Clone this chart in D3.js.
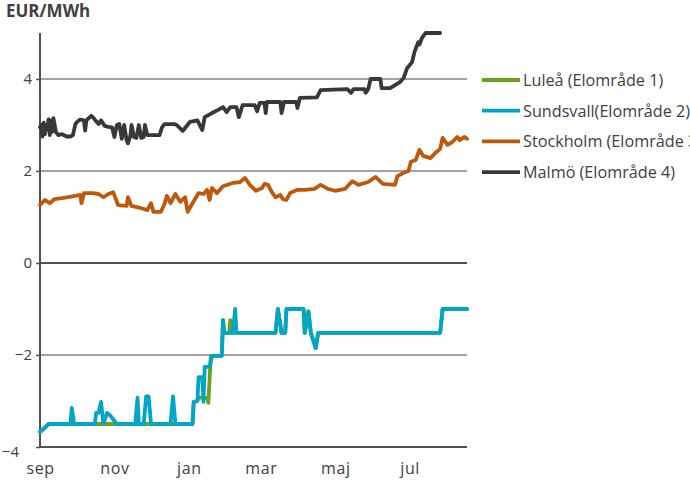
<!DOCTYPE html>
<html>
<head>
<meta charset="utf-8">
<script src="https://cdn.jsdelivr.net/npm/d3@7"></script>
<style>
  html, body { margin: 0; padding: 0; background: #fff; }
  svg { display: block; font-family: "Open Sans", "DejaVu Sans", sans-serif; }
</style>
</head>
<body>
<svg id="chart" width="690" height="481"></svg>
<script>
// Price difference against the system price, EUR/MWh, per bidding area.
// Each point is [days after 1 Sep 2013, EUR/MWh].
const seriesNames = ["Luleå (Elområde 1)", "Sundsvall(Elområde 2)", "Stockholm (Elområde 3)", "Malmö (Elområde 4)"];
const seriesColors = ["#6aa21c", "#00a6c8", "#c0580c", "#383838"];

const lulea = [
  [0, -3.67], [4, -3.58], [7, -3.5], [125, -3.5], [126, -3.02], [129, -3.0], [130, -2.92],
  [137, -2.94], [138, -3.04], [140, -2.02], [149, -2.02], [150, -1.24], [151, -1.52],
  [155, -1.52], [156, -1.24], [157, -1.52], [193, -1.52], [195, -1.0], [198, -1.52],
  [201, -1.52], [202, -1.0], [216, -1.0], [217, -1.52], [220, -1.05], [222, -1.52],
  [226, -1.85], [228, -1.52], [328, -1.52], [330, -1.0], [350, -1.0]
];

const sundsvall = [
  [0, -3.67], [4, -3.58], [7, -3.5], [25, -3.5], [26, -3.15], [28, -3.5], [45, -3.5],
  [46, -3.26], [48, -3.26], [50, -3.02], [52, -3.5], [55, -3.26], [57, -3.3], [61, -3.43],
  [63, -3.5], [78, -3.5], [80, -2.93], [81, -3.5], [85, -3.5], [87, -2.9], [89, -2.9],
  [91, -3.5], [107, -3.5], [109, -2.9], [111, -3.5], [125, -3.5], [126, -3.02], [129, -3.0],
  [130, -2.48], [133, -2.48], [134, -3.02], [135, -2.26], [139, -2.26], [141, -2.02],
  [149, -2.02], [150, -1.24], [151, -1.52], [158, -1.52], [160, -1.0], [161, -1.52],
  [193, -1.52], [195, -1.0], [198, -1.52], [201, -1.52], [202, -1.0], [216, -1.0],
  [217, -1.52], [220, -1.05], [222, -1.52], [226, -1.85], [228, -1.52], [328, -1.52],
  [330, -1.0], [350, -1.0]
];

const stockholm = [
  [0, 1.26], [4, 1.37], [8, 1.30], [12, 1.39], [18, 1.41], [23, 1.43], [29, 1.46], [33, 1.48],
  [34, 1.30], [36, 1.52], [43, 1.52], [48, 1.50], [52, 1.43], [56, 1.50], [60, 1.54],
  [64, 1.26], [71, 1.24], [72, 1.43], [75, 1.24], [82, 1.20], [88, 1.15], [91, 1.30],
  [93, 1.11], [99, 1.11], [102, 1.28], [104, 1.46], [107, 1.30], [111, 1.50], [115, 1.33],
  [119, 1.43], [121, 1.11], [125, 1.30], [130, 1.52], [134, 1.50], [137, 1.59], [139, 1.37],
  [141, 1.63], [145, 1.52], [150, 1.67], [158, 1.74], [164, 1.76], [168, 1.85], [172, 1.70],
  [177, 1.57], [182, 1.63], [184, 1.72], [187, 1.70], [190, 1.54], [193, 1.43], [197, 1.48],
  [199, 1.39], [202, 1.37], [205, 1.52], [211, 1.59], [217, 1.59], [225, 1.61], [230, 1.70],
  [236, 1.61], [242, 1.57], [250, 1.61], [256, 1.78], [261, 1.70], [269, 1.76], [275, 1.87],
  [281, 1.72], [291, 1.70], [293, 1.89], [298, 1.96], [302, 2.0], [304, 2.2], [308, 2.24],
  [311, 2.46], [314, 2.33], [320, 2.28], [324, 2.39], [328, 2.48], [330, 2.72], [334, 2.57],
  [338, 2.63], [342, 2.74], [344, 2.67], [348, 2.74], [350, 2.70]
];

const malmo = [
  [0, 2.95], [1, 3.0], [2, 2.75], [3, 3.05], [4, 2.8], [5, 3.0], [6, 2.9], [7, 3.12],
  [8, 2.78], [9, 3.1], [10, 2.85], [11, 3.15], [13, 2.85], [15, 2.78], [18, 2.8], [22, 2.75],
  [25, 2.75], [27, 2.78], [29, 3.02], [31, 3.08], [33, 3.12], [36, 3.1], [37, 2.88], [38, 3.1],
  [40, 3.15], [42, 3.2], [44, 3.15], [46, 3.08], [48, 3.02], [50, 3.1], [53, 2.98], [56, 2.96],
  [59, 2.95], [61, 2.74], [63, 3.0], [65, 3.02], [67, 2.7], [69, 3.0], [71, 2.67], [72, 2.6],
  [74, 2.75], [75, 3.0], [77, 2.74], [79, 2.72], [81, 3.0], [83, 2.72], [85, 2.74], [86, 3.0],
  [88, 2.78], [98, 2.78], [100, 2.95], [102, 3.02], [110, 3.02], [112, 3.0], [117, 2.87],
  [123, 3.07], [129, 3.1], [133, 2.89], [135, 3.17], [141, 3.26], [146, 3.33], [150, 3.39],
  [153, 3.28], [156, 3.39], [161, 3.39], [163, 3.17], [166, 3.43], [176, 3.43], [178, 3.3],
  [180, 3.48], [184, 3.48], [185, 3.26], [186, 3.5], [197, 3.5], [198, 3.26], [200, 3.5],
  [210, 3.5], [211, 3.37], [213, 3.59], [227, 3.6], [230, 3.76], [252, 3.78], [255, 3.7],
  [257, 3.78], [266, 3.78], [267, 3.7], [269, 3.78], [271, 4.0], [279, 4.0], [280, 3.8],
  [287, 3.8], [290, 3.85], [295, 3.93], [298, 4.02], [301, 4.24], [303, 4.3], [305, 4.37],
  [307, 4.59], [310, 4.8], [311, 4.75], [313, 4.89], [316, 5.0], [328, 5.0]
];

const yTicks = [-4, -2, 0, 2, 4];
const monthLabels = ["sep", "nov", "jan", "mar", "maj", "jul"];
const monthStarts = ["2013-09-01", "2013-11-01", "2014-01-01", "2014-03-01", "2014-05-01", "2014-07-01"];
const axisTitle = "EUR/MWh";

// ---- drawing ----
const svg = d3.select("#chart");
const start = new Date(2013, 8, 1);
const toDate = d => d3.timeDay.offset(start, d);
const parse = d3.timeParse("%Y-%m-%d");

const x = d3.scaleTime().domain([start, toDate(350)]).range([40, 467]);
const y = d3.scaleLinear().domain([-4, 5]).range([447, 33]);

const textColor = "#404040";

// gridlines
svg.append("g")
  .selectAll("line")
  .data(yTicks)
  .join("line")
  .attr("x1", x.range()[0]).attr("x2", x.range()[1])
  .attr("y1", d => y(d)).attr("y2", d => y(d))
  .attr("stroke", d => (d === 0 || d === -4) ? "#505050" : "#858585")
  .attr("stroke-width", d => (d === 0 || d === -4) ? 1.8 : 1.3);

// y axis
const yAxis = svg.append("g")
  .attr("transform", `translate(${x.range()[0]},0)`)
  .call(d3.axisLeft(y).tickValues(yTicks).tickSize(4).tickPadding(4).tickSizeOuter(0));
yAxis.select(".domain").attr("stroke", "#505050").attr("stroke-width", 2)
  .attr("d", `M0,${y(5)}V${y(-4) + 1}`);
yAxis.selectAll(".tick line").attr("stroke", "#505050").attr("stroke-width", 1.5);
yAxis.selectAll(".tick text")
  .attr("fill", textColor)
  .style("font-size", "15px")
  .style("font-family", "'Open Sans', sans-serif");
yAxis.selectAll(".tick").filter(d => d === -4).select("text")
  .attr("x", -21).attr("dy", "0.62em");

// x axis labels
const xAxis = svg.append("g")
  .attr("transform", `translate(0,${y(-4)})`)
  .call(d3.axisBottom(x)
    .tickValues(monthStarts.map(parse))
    .tickFormat((d, i) => monthLabels[i])
    .tickSize(0).tickPadding(16));
xAxis.select(".domain").remove();
xAxis.selectAll(".tick text")
  .attr("fill", textColor)
  .style("font-size", "16px")
  .style("letter-spacing", "0.6px")
  .style("font-family", "'Open Sans', sans-serif");

// series lines
const line = d3.line()
  .x(d => x(toDate(d[0])))
  .y(d => y(d[1]));

const allSeries = [lulea, sundsvall, stockholm, malmo];
svg.append("g")
  .selectAll("path")
  .data(allSeries)
  .join("path")
  .attr("d", line)
  .attr("fill", "none")
  .attr("stroke", (d, i) => seriesColors[i])
  .attr("stroke-width", 3.8)
  .attr("stroke-linejoin", "round")
  .attr("stroke-linecap", "round");

// legend
const legend = svg.append("g").attr("transform", "translate(482,80)");
const item = legend.selectAll("g")
  .data(seriesNames)
  .join("g")
  .attr("transform", (d, i) => `translate(0,${i * 30.7})`);
item.append("line")
  .attr("x1", 0).attr("x2", 38)
  .attr("stroke", (d, i) => seriesColors[i])
  .attr("stroke-width", 3.8);
item.append("text")
  .attr("x", 41).attr("dy", "0.36em")
  .attr("fill", textColor)
  .style("font-size", "16.2px")
  .text(d => d);

// unit label
svg.append("text")
  .attr("x", 6).attr("y", 17)
  .attr("fill", textColor)
  .style("font-size", "17px")
  .style("font-weight", "bold")
  .text(axisTitle);
</script>
</body>
</html>
